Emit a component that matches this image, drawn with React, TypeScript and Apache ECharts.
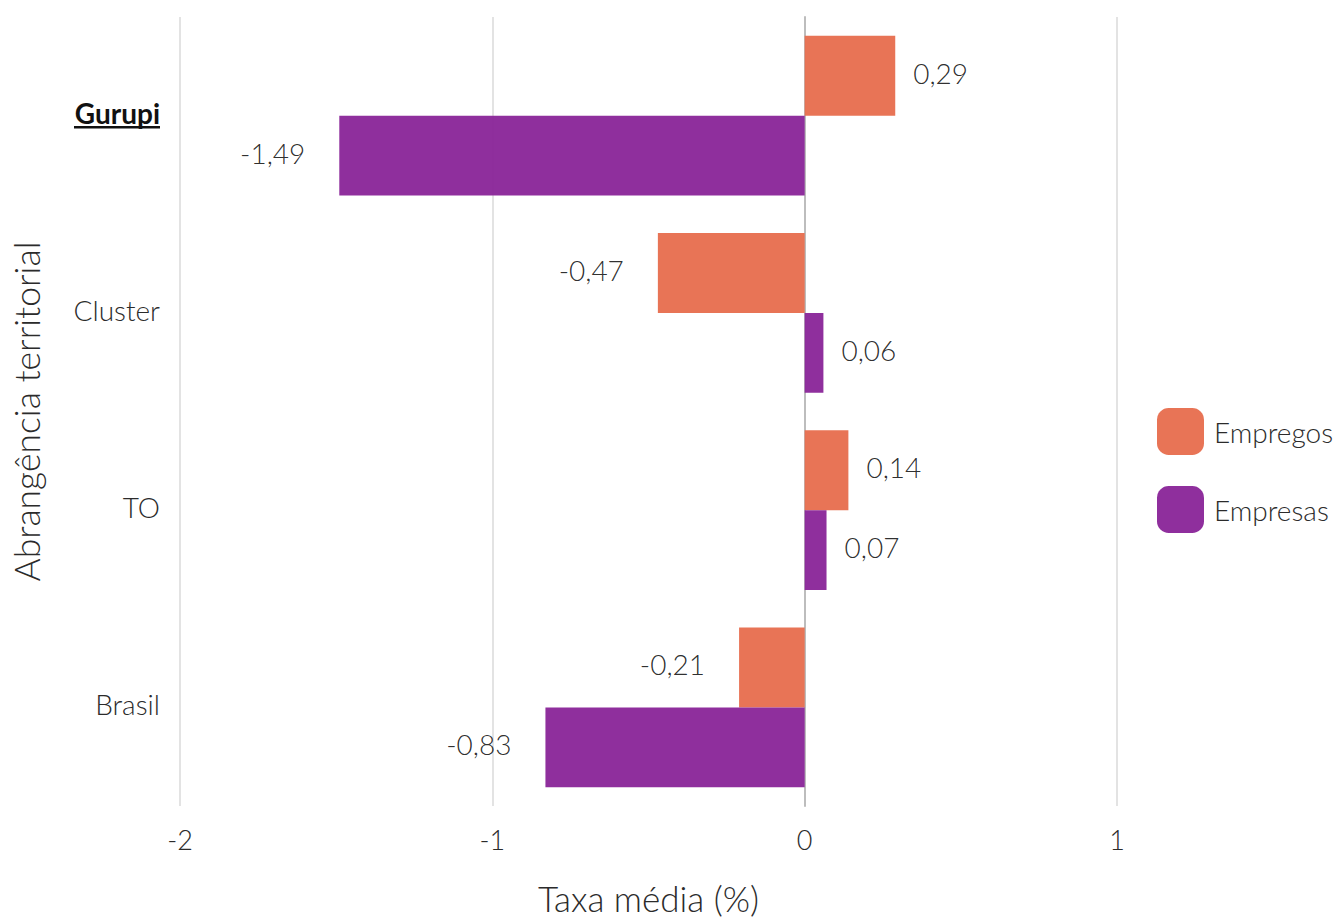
import React, { useEffect, useRef } from "react";
import * as echarts from "echarts";

const categories = ["Gurupi", "Cluster", "TO", "Brasil"];
const empregos = [0.29, -0.47, 0.14, -0.21];
const empresas = [-1.49, 0.06, 0.07, -0.83];
const xTicks = [-2, -1, 0, 1];
const seriesNames = ["Empregos", "Empresas"];

const FONT = "Lato";
const TXT = "#2b2b2b";

function fmt(v: number) {
  return v.toFixed(2).replace(".", ",");
}

function labelFor(v: number) {
  return {
    show: true,
    position: v >= 0 ? "right" : "left",
    distance: v >= 0 ? 18 : 34,
    offset: [0, -3],
    formatter: fmt(v),
    fontFamily: FONT,
    fontWeight: 300,
    fontSize: 28,
    color: TXT,
  };
}

export default function App() {
  const ref = useRef<HTMLDivElement>(null);
  useEffect(() => {
    const chart = echarts.init(ref.current!, null, { renderer: "svg" });
    chart.setOption({
      animation: false,
      backgroundColor: "#ffffff",
      grid: { left: 180, top: 17, width: 937, height: 789, outerBoundsMode: "none", containLabel: false },
      legend: {
        orient: "vertical",
        left: 1157,
        top: 408,
        padding: 0,
        itemWidth: 47,
        itemHeight: 47,
        itemGap: 31,
        icon: "roundRect",
        data: seriesNames,
        textStyle: { fontFamily: FONT, fontWeight: 300, fontSize: 28, color: TXT, padding: [0, 0, 6, 5] },
      },
      xAxis: {
        type: "value",
        min: xTicks[0],
        max: xTicks[xTicks.length - 1],
        interval: 1,
        name: "Taxa média (%)",
        nameLocation: "middle",
        nameGap: 74,
        nameTextStyle: { fontFamily: FONT, fontWeight: 300, fontSize: 35, color: TXT },
        axisLine: { show: false },
        axisTick: { show: false },
        axisLabel: {
          margin: 20,
          fontFamily: FONT,
          fontWeight: 300,
          fontSize: 27,
          color: TXT,
          formatter: (v: number) => String(v),
        },
        splitLine: { show: true, lineStyle: { color: "#dadada", width: 1.5 } },
      },
      yAxis: {
        type: "category",
        data: categories,
        inverse: true,
        name: "Abrangência territorial",
        nameLocation: "middle",
        nameRotate: 90,
        nameGap: 136,
        nameTextStyle: { fontFamily: FONT, fontWeight: 300, fontSize: 35.5, color: TXT },
        axisLine: { show: true, onZero: true, lineStyle: { color: "#bdbdbd", width: 2 } },
        axisTick: { show: false },
        axisLabel: {
          margin: 20,
          fontFamily: FONT,
          fontWeight: 300,
          fontSize: 28,
          color: TXT,
          padding: [0, 0, 6, 0],
          formatter: (v: string) => (v === "Gurupi" ? "{b|" + v + "}" : v),
          rich: {
            b: { fontFamily: FONT, fontWeight: "bold", fontSize: 28, color: "#111111" },
          },
        },
        splitLine: { show: false },
      },
      series: [
        {
          name: seriesNames[0],
          type: "bar",
          barCategoryGap: "19%",
          barGap: "0%",
          itemStyle: { color: "#E76F51", opacity: 0.97 },
          data: empregos.map((v) => ({ value: v, label: labelFor(v) })),
        },
        {
          name: seriesNames[1],
          type: "bar",
          barCategoryGap: "19%",
          barGap: "0%",
          itemStyle: { color: "#8B289A", opacity: 0.97 },
          data: empresas.map((v) => ({ value: v, label: labelFor(v) })),
        },
      ],
      graphic: [
        { type: "rect", left: 74, top: 126, shape: { width: 86, height: 2.5 }, style: { fill: "#111111" } },
      ],
    });
    return () => chart.dispose();
  }, []);
  return (
    <div
      ref={ref}
      style={{ position: "absolute", left: 0, top: 0, width: 1337, height: 917 }}
    />
  );
}
